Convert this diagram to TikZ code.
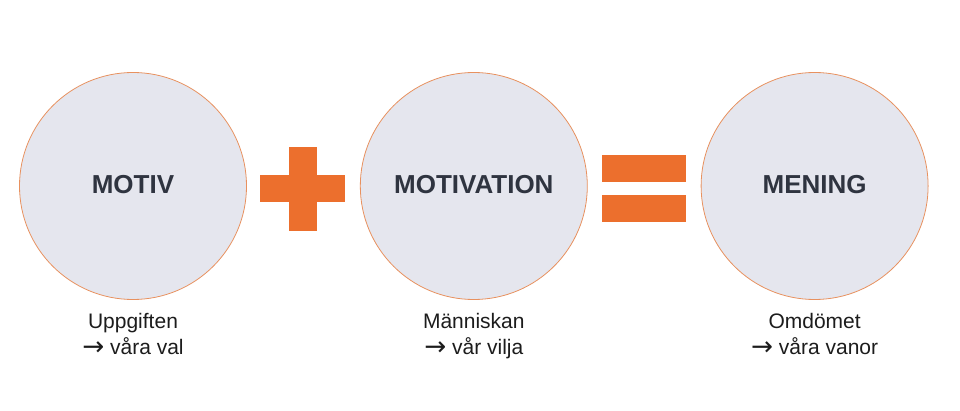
\documentclass[tikz,border=0pt]{standalone}
\usepackage{fontspec}
\setmainfont{Liberation Sans}
\newfontfamily\arrowfont{DejaVu Sans}
\usetikzlibrary{positioning}
\definecolor{signorange}{HTML}{EC6F2D}
\definecolor{ringorange}{HTML}{E8915F}
\definecolor{discgray}{HTML}{E5E6EE}
\definecolor{titleslate}{HTML}{2F3440}
\definecolor{captionblack}{HTML}{1C1C1C}
\newcommand{\toarrow}{{\arrowfont\raisebox{-1.5pt}{\scalebox{1.25}{→}}}}
\tikzset{%
    disc/.style={circle,draw=ringorange,line width=.8pt,fill=discgray,minimum size=227pt,inner sep=0pt,
        font=\fontsize{26}{30}\selectfont\bfseries,text=titleslate},
    every label/.style={align=center,inner sep=0pt,text=captionblack,font=\fontsize{21}{26}\selectfont},
    bar/.style={rectangle,fill=signorange,inner sep=0pt,minimum width=85pt,minimum height=27pt},
    lift/.style={label distance=13pt}
}

\begin{document}
\begin{tikzpicture}[x=1pt,y=-1pt,node distance=113pt]
            \useasboundingbox (0,0) rectangle (960,411);
            \node [disc,label={[lift]270:{Uppgiften\\\toarrow{} våra val}}] (motiv) at (133,186) {\raisebox{2.5pt}{MOTIV}};
            \node [disc,right=of motiv,label={[lift]270:{Människan\\\toarrow{} vår vilja}}] (motivation) {\raisebox{2.5pt}{MOTIVATION}};
            \node [disc,right=of motivation,label={[lift]270:{Omdömet\\\toarrow{} våra vanor}}] (mening) {\raisebox{2.5pt}{MENING}};
            %%%%%
            \node [bar] (plus-h) at (302.5,188.5) {};
            \node [bar,minimum width=28pt,minimum height=84pt] (plus-v) at (302.5,189) {};
            \node [bar,minimum width=84pt] (eq-top) at (644,168.5) {};
            \node [bar,minimum width=84pt] (eq-bot) at (644,208.5) {};
\end{tikzpicture}
\end{document}
